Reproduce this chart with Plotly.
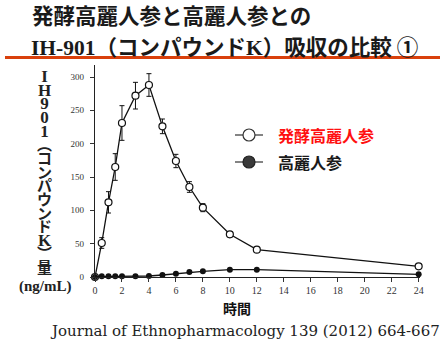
import plotly.graph_objects as go

# Sampling times (h)
hours = [0, 0.5, 1, 1.5, 2, 3, 4, 5, 6, 7, 8, 10, 12, 24]

# Fermented red ginseng: mean plasma IH-901 (ng/mL) and SD
fermented = [0, 51, 112, 165, 231, 272, 288, 226, 174, 135, 104, 64, 41, 16]
fermented_sd = [0, 8, 16, 20, 26, 20, 17, 11, 10, 8, 6, 4, 2, 2]

# Red ginseng: mean plasma IH-901 (ng/mL)
red = [0, 1, 1, 1, 1, 1, 1.5, 3, 5, 7.5, 8.5, 11, 11, 4]

x_ticks = list(range(0, 25, 2))
y_ticks = list(range(0, 301, 50))

title_line1 = "発酵高麗人参と高麗人参との"
title_line2 = ("<span style='font-family:\"Liberation Serif\"'>IH-901</span>（コンパウンド"
               "<span style='font-family:\"Liberation Serif\"'>K</span>）吸収の比較 ①")
legend_names = ["発酵高麗人参", "高麗人参"]
x_title = "時間"
citation = "Journal of Ethnopharmacology 139 (2012) 664-667"
y_title_chars = ["I", "H", "9", "0", "1", "︵", "コ", "ン", "パ", "ウ", "ン", "ド", "K", "︶", "量"]
y_unit = "(ng/mL)"

W, H = 446, 348
L, T, PW, PH = 95, 65, 325, 212


def px(x):
    return (x - L) / PW


def py(y):
    return (T + PH - y) / PH


SERIF = "Liberation Serif"
CJK = "Noto Sans CJK JP"

fig = go.Figure()
fig.add_trace(go.Scatter(
    x=hours, y=fermented, mode="lines+markers",
    line=dict(color="#111", width=1.3),
    marker=dict(symbol="circle", size=7, color="white", line=dict(color="#111", width=1.2)),
    error_y=dict(type="data", array=fermented_sd, color="#111", thickness=1, width=2.5),
    cliponaxis=False, showlegend=False,
))
fig.add_trace(go.Scatter(
    x=hours, y=red, mode="lines+markers",
    line=dict(color="#111", width=1.3),
    marker=dict(symbol="circle", size=6, color="#111"),
    cliponaxis=False, showlegend=False,
))

# Stacked vertical y-axis title as one text block; each glyph sized on its own
glyphs = []
for ch in y_title_chars:
    if ch.isascii():
        glyphs.append("<span style='font-family:\"Liberation Serif\";font-size:17px'>" + ch + "</span>")
    else:
        glyphs.append("<span style='font-size:15px'>" + ch + "</span>")
y_title = "<b>" + "<br>".join(glyphs) + "</b>"

annotations = [
    dict(text="<b>" + title_line1 + "</b>", x=px(30), y=py(15), xanchor="left", yanchor="middle",
         font=dict(family=CJK, size=21.5, color="#1a1a1a")),
    dict(text="<b>" + title_line2 + "</b>", x=px(29), y=py(45), xanchor="left", yanchor="middle",
         font=dict(family=CJK, size=21.5, color="#1a1a1a")),
    dict(text="<b>" + x_title + "</b>", x=px(237), y=py(308), xanchor="center", yanchor="middle",
         font=dict(family=CJK, size=14, color="#111")),
    dict(text=citation, x=px(442), y=py(331), xanchor="right", yanchor="middle",
         font=dict(family="DejaVu Serif", size=15, color="#222")),
    dict(text="<b>" + y_unit + "</b>", x=px(45), y=py(286), xanchor="center", yanchor="middle",
         font=dict(family=SERIF, size=15, color="#222")),
    dict(text="<b>" + legend_names[0] + "</b>", x=px(276), y=py(135), xanchor="left", yanchor="middle",
         font=dict(family=CJK, size=16, color="#ff1010")),
    dict(text="<b>" + legend_names[1] + "</b>", x=px(276), y=py(162), xanchor="left", yanchor="middle",
         font=dict(family=CJK, size=16, color="#1a1a1a")),
    dict(text=y_title, x=px(44), y=py(172), xanchor="center", yanchor="middle",
         font=dict(family=CJK, size=10.5, color="#222")),
]
for a in annotations:
    a.update(xref="paper", yref="paper", showarrow=False)

shapes = [
    dict(type="line", xref="paper", yref="paper", x0=px(5), x1=px(440), y0=py(57.5), y1=py(57.5),
         line=dict(color="#d9400c", width=3)),
]
for row_y, fill, edge in [(135, "white", "#333"), (162, "#3a3a3a", "#222")]:
    shapes.append(dict(type="line", xref="paper", yref="paper", x0=px(235), x1=px(263),
                       y0=py(row_y), y1=py(row_y), line=dict(color="#333", width=1.2)))
    shapes.append(dict(type="circle", xref="paper", yref="paper",
                       x0=px(243), x1=px(255), y0=py(row_y + 6), y1=py(row_y - 6),
                       fillcolor=fill, line=dict(color=edge, width=1.2)))

fig.update_layout(
    width=W, height=H, margin=dict(l=L, r=W - L - PW, t=T, b=H - T - PH),
    paper_bgcolor="white", plot_bgcolor="white",
    annotations=annotations, shapes=shapes,
    xaxis=dict(range=[0, 24.1], tickvals=x_ticks, ticks="outside", ticklen=4, tickcolor="#333",
               showline=True, linecolor="#222", linewidth=1.2, showgrid=False, zeroline=False,
               tickfont=dict(family=SERIF, size=10, color="#333")),
    yaxis=dict(range=[0, 318], tickvals=y_ticks, ticks="outside", ticklen=4, tickcolor="#333",
               showline=True, linecolor="#222", linewidth=1.2, showgrid=False, zeroline=False,
               ticklabelstandoff=4,
               tickfont=dict(family=SERIF, size=9, color="#333")),
)

fig.write_html("out.html")
